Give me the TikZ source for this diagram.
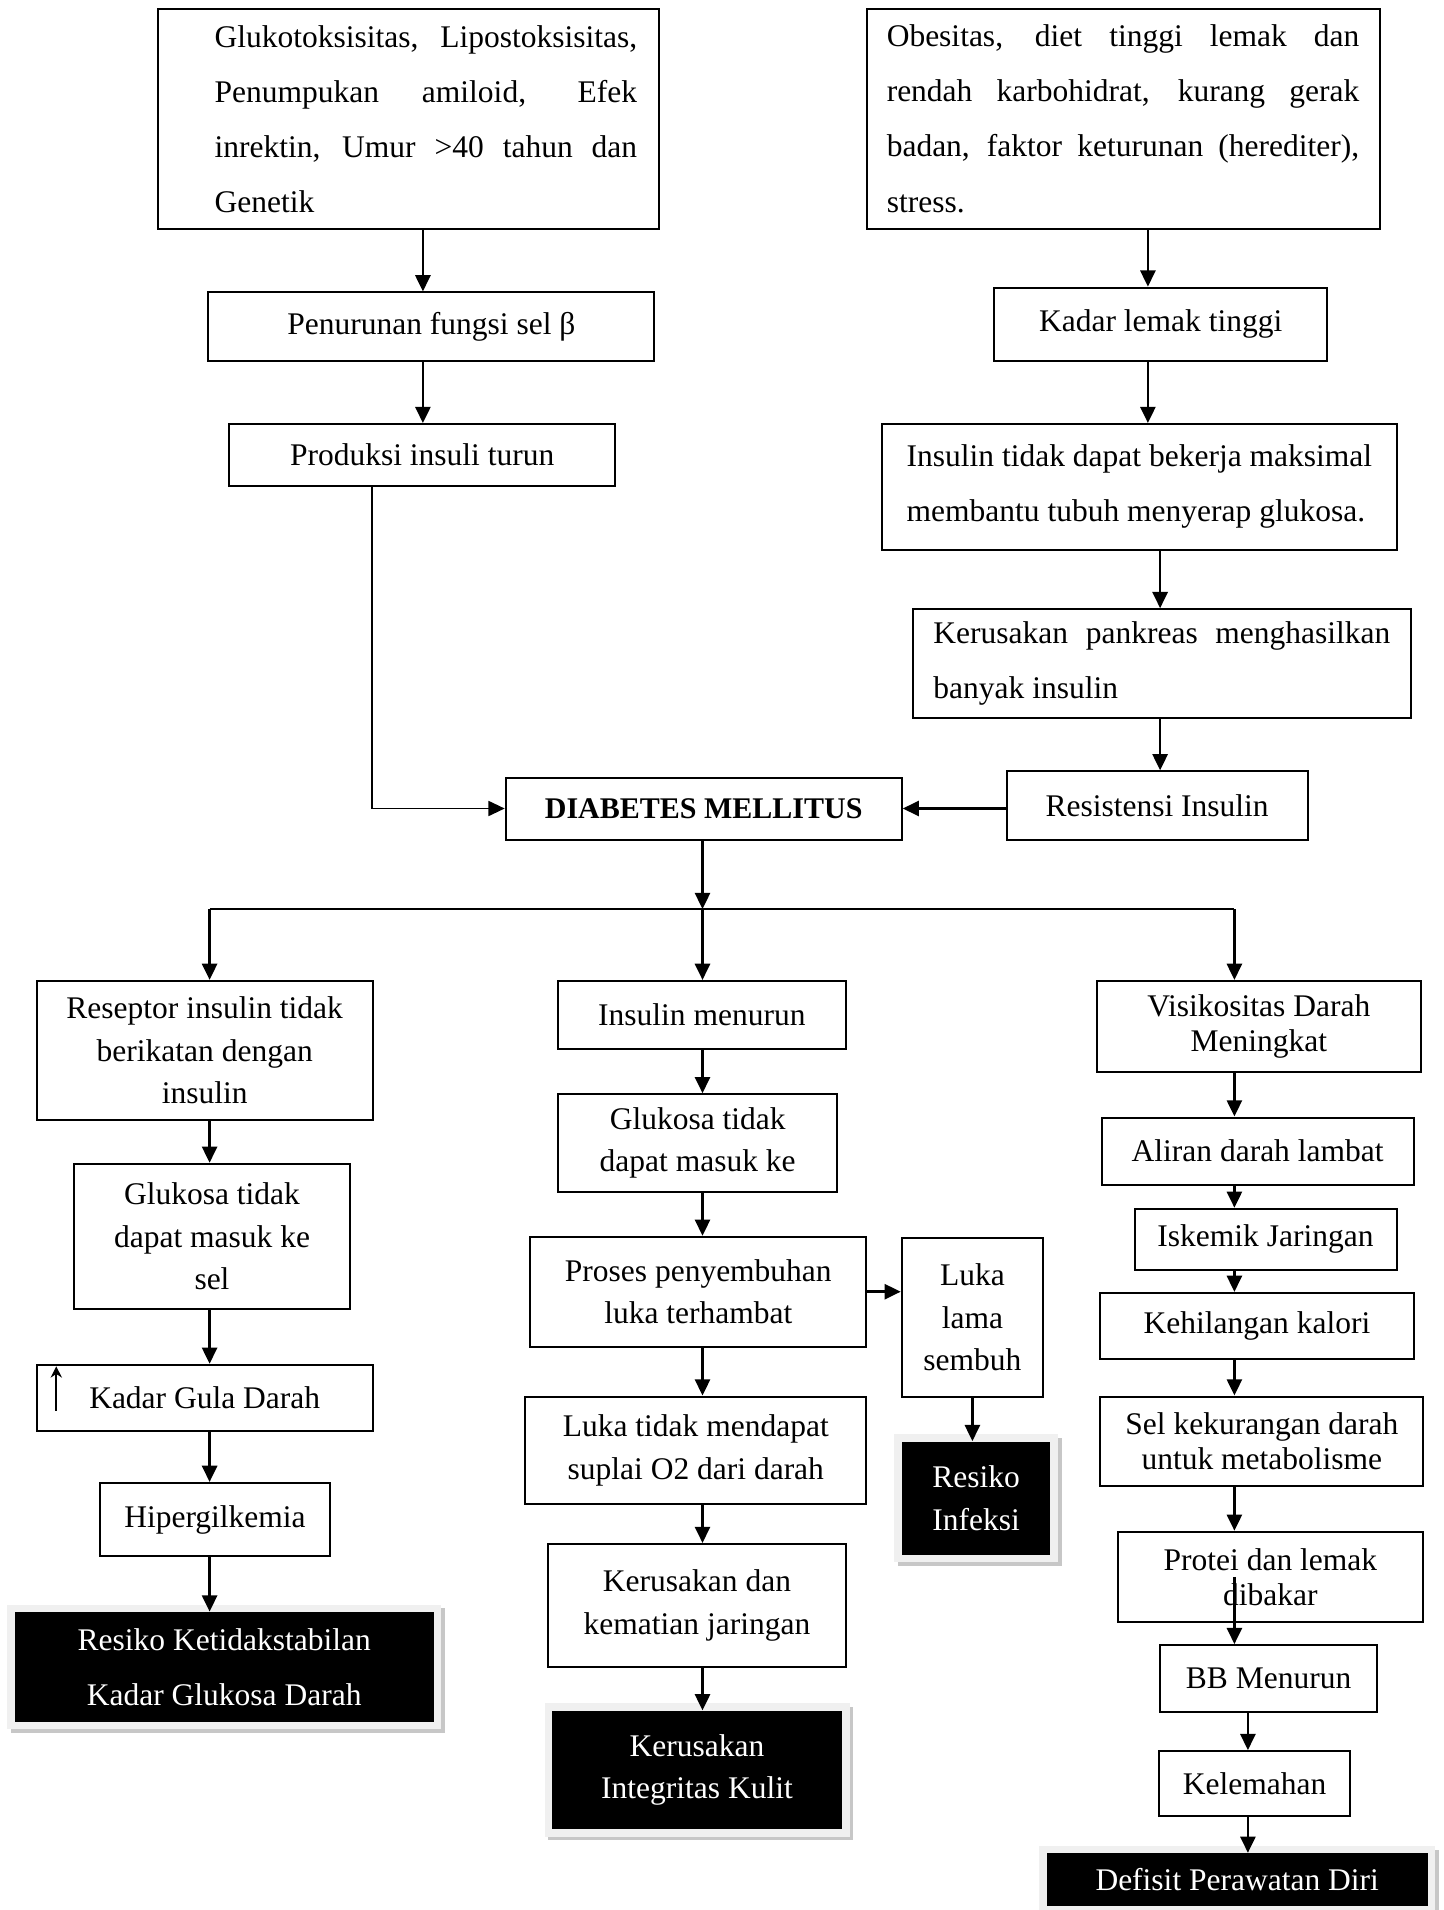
\documentclass[tikz,border=0pt]{standalone}
\usepackage{fontspec}
\setmainfont{Liberation Serif}
\usetikzlibrary{arrows.meta,positioning,calc}

\newcommand{\spreadline}[2]{\makebox[#1][s]{#2}}

\begin{document}
\begin{tikzpicture}[
    x=0.4pt, y=-0.4pt,
    every node/.style={font=\fontsize{12.6}{17}\selectfont},
    rect/.style={draw, line width=0.8pt, align=center, inner sep=2pt},
    wide/.style={font=\fontsize{12.6}{22}\selectfont},
    tight/.style={font=\fontsize{12.6}{14}\selectfont},
    riskbox/.style={align=center, inner sep=2pt, fill=black, text=white,
        preaction={draw=black!22, line width=6pt, transform canvas={xshift=1.5pt,yshift=-1.5pt}},
        preaction={draw=black!6, line width=6pt}},
    arr/.style={-{Triangle[length=6.5pt,width=6pt]}, line width=1.1pt},
    link/.style={line width=1.1pt}
  ]
  \fill[white] (0,0) rectangle (1444,1910);
  \useasboundingbox (0,0) rectangle (1444,1910);

  % causes, left branch
  \node[rect, wide, align=left, minimum width=200.4pt, minimum height=88.2pt] (gluko) at (408.9,118.8)
    {\hspace*{13.6pt}\spreadline{169pt}{Glukotoksisitas, Lipostoksisitas,}\\
     \hspace*{13.6pt}\spreadline{169pt}{Penumpukan amiloid, Efek}\\
     \hspace*{13.6pt}\spreadline{169pt}{inrektin, Umur >40 tahun dan}\\
     \hspace*{13.6pt}Genetik};
  \node[rect, minimum width=178.4pt, minimum height=27.3pt] (pen) at (431.4,326.6) {Penurunan fungsi sel β};
  \node[rect, minimum width=154.5pt, minimum height=24.8pt] (prod) at (422.2,455.1) {Produksi insuli turun};

  % causes, right branch
  \node[rect, wide, align=left, minimum width=205.2pt, minimum height=88.2pt] (obes) at (1123,118.8)
    {\spreadline{189pt}{Obesitas, diet tinggi lemak dan}\\
     \spreadline{189pt}{rendah karbohidrat, kurang gerak}\\
     \spreadline{189pt}{badan, faktor keturunan (herediter),}\\
     stress.};
  \node[rect, minimum width=133pt, minimum height=29.2pt] (lemak) at (1160.7,324.2) {Kadar lemak tinggi};
  \node[rect, wide, align=left, minimum width=205.7pt, minimum height=50.2pt] (insmax) at (1139.4,486.8)
    {Insulin tidak dapat bekerja maksimal\\membantu tubuh menyerap glukosa.};
  \node[rect, wide, align=left, minimum width=199.4pt, minimum height=43.4pt] (pank) at (1161.9,663.5)
    {\spreadline{182.8pt}{Kerusakan pankreas menghasilkan}\\banyak insulin};
  \node[rect, minimum width=120.4pt, minimum height=27.3pt] (res) at (1157.1,805.5) {Resistensi Insulin};

  \node[rect, font=\fontsize{12}{14}\selectfont\bfseries, minimum width=158.4pt, minimum height=24.8pt] (dm) at (703.7,808.5) {DIABETES MELLITUS};

  % left column
  \node[rect, minimum width=134.5pt, minimum height=55.6pt] (resep) at (204.7,1050.4) {Reseptor insulin tidak\\berikatan dengan\\insulin};
  \node[rect, minimum width=110.2pt, minimum height=58pt] (gluk1) at (212,1236.3) {Glukosa tidak\\dapat masuk ke\\sel};
  \node[rect, minimum width=134.5pt, minimum height=26.3pt] (gula) at (204.7,1397.7) {Kadar Gula Darah};
  \node[rect, minimum width=92.1pt, minimum height=29.3pt] (hiper) at (215,1519.6) {Hipergilkemia};
  \node[riskbox, wide, minimum width=167.7pt, minimum height=43.9pt] (rkg) at (224.2,1667) {Resiko Ketidakstabilan\\Kadar Glukosa Darah};

  % middle column
  \node[rect, minimum width=115pt, minimum height=27.3pt] (insmen) at (701.9,1015.1) {Insulin menurun};
  \node[rect, minimum width=111.6pt, minimum height=39pt] (gluk2) at (697.7,1143) {Glukosa tidak\\dapat masuk ke};
  \node[rect, minimum width=134.5pt, minimum height=43.9pt] (proses) at (698.3,1291.7) {Proses penyembuhan\\luka terhambat};
  \node[rect, minimum width=136.5pt, minimum height=42.9pt] (suplai) at (695.8,1450.2) {Luka tidak mendapat\\suplai O2 dari darah};
  \node[rect, minimum width=118.9pt, minimum height=49.2pt] (kemat) at (697,1605.5) {Kerusakan dan\\kematian jaringan};
  \node[riskbox, minimum width=116pt, minimum height=47.3pt] (kulit) at (697,1770) {Kerusakan\\Integritas Kulit};
  \node[rect, minimum width=56.5pt, minimum height=63.4pt] (lama) at (972.4,1317.3) {Luka\\lama\\sembuh};
  \node[riskbox, minimum width=59.4pt, minimum height=45.3pt] (infeksi) at (976.1,1498.3) {Resiko\\Infeksi};

  % right column
  \node[rect, tight, minimum width=129.7pt, minimum height=36.6pt] (visk) at (1258.8,1026.7) {Visikositas Darah\\Meningkat};
  \node[rect, minimum width=124.8pt, minimum height=26.8pt] (aliran) at (1257.6,1151) {Aliran darah lambat};
  \node[rect, minimum width=104.8pt, minimum height=24.4pt] (iskemik) at (1265.5,1239.3) {Iskemik Jaringan};
  \node[rect, minimum width=125.3pt, minimum height=26.3pt] (kalori) at (1257,1325.8) {Kehilangan kalori};
  \node[rect, tight, minimum width=129.2pt, minimum height=35.6pt] (selk) at (1261.9,1441) {Sel kekurangan darah\\untuk metabolisme};
  \node[rect, tight, minimum width=122.3pt, minimum height=36.1pt] (protei) at (1270.4,1576.9) {Protei dan lemak\\dibakar};
  \node[rect, minimum width=86.8pt, minimum height=26.8pt] (bb) at (1268.6,1678.6) {BB Menurun};
  \node[rect, minimum width=76.5pt, minimum height=25.8pt] (lemah) at (1254.6,1783.4) {Kelemahan};
  \node[riskbox, minimum width=152.4pt, minimum height=21.1pt] (defisit) at (1237.2,1879.7) {Defisit Perawatan Diri};

  % columns for the connectors
  \coordinate (colA) at (422.9,0);
  \coordinate (colP) at (371.7,0);
  \coordinate (colB) at (1147.9,0);
  \coordinate (colC) at (1160.1,0);
  \coordinate (colL) at (209.6,0);
  \coordinate (colM) at (702.5,0);
  \coordinate (colR) at (1234.4,0);
  \coordinate (colT) at (1247.9,0);
  \coordinate (colS) at (972.4,0);
  \coordinate (bus) at (702.5,909.1);

  \draw[arr] (gluko.south -| colA) -- (pen.north -| colA);
  \draw[arr] (pen.south -| colA) -- (prod.north -| colA);
  \draw[arr, line width=0.7pt] (prod.south -| colP) |- (dm.west);
  \draw[arr] (obes.south -| colB) -- (lemak.north -| colB);
  \draw[arr] (lemak.south -| colB) -- (insmax.north -| colB);
  \draw[arr] (insmax.south -| colC) -- (pank.north -| colC);
  \draw[arr] (pank.south -| colC) -- (res.north -| colC);
  \draw[arr] (res.west |- dm.east) -- (dm.east);

  \draw[arr] (dm.south -| colM) -- (bus);
  \draw[link] (bus -| colL) -- (bus -| colR);
  \draw[arr] (bus -| colL) -- (resep.north -| colL);
  \draw[arr] (bus) -- (insmen.north -| colM);
  \draw[arr] (bus -| colR) -- (visk.north -| colR);

  \draw[arr] (resep.south -| colL) -- (gluk1.north -| colL);
  \draw[arr] (gluk1.south -| colL) -- (gula.north -| colL);
  \draw[arr] (gula.south -| colL) -- (hiper.north -| colL);
  \draw[arr] (hiper.south -| colL) -- (rkg.north -| colL);
  \draw[-{Stealth[length=4.5pt,width=4.5pt]}, line width=0.9pt]
    ($(gula.south west)+(20.7,-20.6)$) -- ($(gula.north west)+(20.7,2.5)$);

  \draw[arr] (insmen.south -| colM) -- (gluk2.north -| colM);
  \draw[arr] (gluk2.south -| colM) -- (proses.north -| colM);
  \draw[arr] (proses.south -| colM) -- (suplai.north -| colM);
  \draw[arr] (suplai.south -| colM) -- (kemat.north -| colM);
  \draw[arr] (kemat.south -| colM) -- (kulit.north -| colM);
  \draw[arr] (proses.east) -- (proses.east -| lama.west);
  \draw[arr] (lama.south -| colS) -- (infeksi.north -| colS);

  \draw[arr] (visk.south -| colR) -- (aliran.north -| colR);
  \draw[arr] (aliran.south -| colR) -- (iskemik.north -| colR);
  \draw[arr] (iskemik.south -| colR) -- (kalori.north -| colR);
  \draw[arr] (kalori.south -| colR) -- (selk.north -| colR);
  \draw[arr] (selk.south -| colR) -- (protei.north -| colR);
  \draw[arr] (protei.center -| colR) -- (bb.north -| colR);
  \draw[arr] (bb.south -| colT) -- (lemah.north -| colT);
  \draw[arr] (lemah.south -| colT) -- (defisit.north -| colT);
\end{tikzpicture}
\end{document}
